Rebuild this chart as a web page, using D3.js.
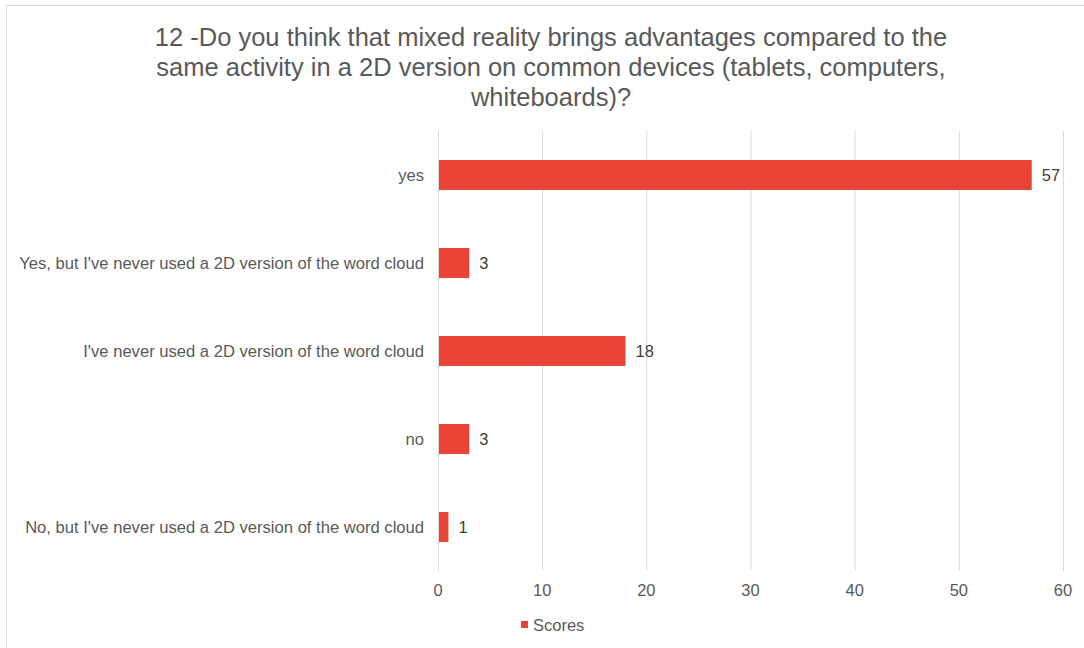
<!DOCTYPE html>
<html><head><meta charset="utf-8">
<script src="https://cdn.jsdelivr.net/npm/d3@7"></script>
<style>body{margin:0;background:#fff}svg{display:block;font-family:"Liberation Sans",Arial,sans-serif}</style>
</head><body><svg id="c" width="1084" height="648"></svg>
<script>
const titleLines = ["12 -Do you think that mixed reality brings advantages compared to the","same activity in a 2D version on common devices (tablets, computers,","whiteboards)?"];
const categories = ["yes","Yes, but I've never used a 2D version of the word cloud","I've never used a 2D version of the word cloud","no","No, but I've never used a 2D version of the word cloud"];
const values = [57,3,18,3,1];
const ticks = [0,10,20,30,40,50,60];
const seriesName = "Scores";

const svg = d3.select("#c");
svg.append("rect").attr("x",6.5).attr("y",5.5).attr("width",1100).attr("height",700).attr("fill","#fff").attr("stroke","#d9d9d9");

const x = d3.scaleLinear().domain([0,60]).range([438,1063]);
const y = d3.scaleBand().domain(categories).range([131,571]).paddingInner(0.66).paddingOuter(0.33);

svg.append("g").selectAll("line").data(ticks).join("line")
  .attr("x1",d=>x(d)+0.5).attr("x2",d=>x(d)+0.5).attr("y1",131).attr("y2",571)
  .attr("stroke","#d9d9d9").attr("stroke-width",1);

const t = svg.append("text").attr("text-anchor","middle").attr("fill","#595959").attr("font-size",25.5);
titleLines.forEach((l,i)=>t.append("tspan").attr("x",551).attr("y",46+i*30).text(l));

svg.append("g").selectAll("rect").data(values).join("rect")
  .attr("x",x(0)+1).attr("y",(d,i)=>y(categories[i])).attr("height",y.bandwidth())
  .attr("width",d=>x(d)-x(0)-1).attr("fill","#EA4335");

svg.append("g").selectAll("text").data(values).join("text")
  .attr("x",d=>x(d)+10).attr("y",(d,i)=>y(categories[i])+y.bandwidth()/2).attr("dy","0.35em")
  .attr("font-size",16.5).attr("fill","#404040").text(d=>d);

svg.append("g").selectAll("text").data(categories).join("text")
  .attr("x",424).attr("y",d=>y(d)+y.bandwidth()/2).attr("dy","0.35em").attr("text-anchor","end")
  .attr("font-size",16.6).attr("fill","#595959").text(d=>d);

svg.append("g").selectAll("text").data(ticks).join("text")
  .attr("x",d=>x(d)).attr("y",596).attr("text-anchor","middle")
  .attr("font-size",16.5).attr("fill","#595959").text(d=>d);

svg.append("rect").attr("x",521).attr("y",621).attr("width",7).attr("height",7).attr("fill","#EA4335");
svg.append("text").attr("x",533).attr("y",631).attr("font-size",16.5).attr("fill","#595959").text(seriesName);
</script></body></html>
